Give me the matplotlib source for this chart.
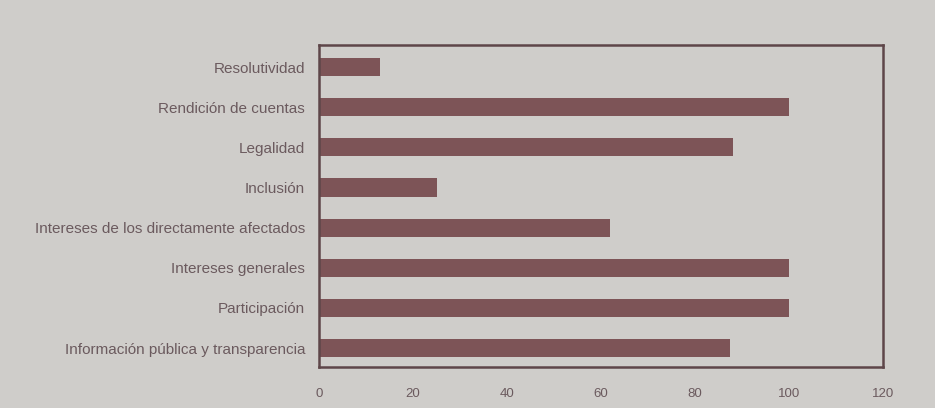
import numpy as np
import matplotlib.pyplot as plt

# Categories from top to bottom as in the picture
categories = ["Resolutividad", "Rendición de cuentas", "Legalidad", "Inclusión",
              "Intereses de los directamente afectados", "Intereses generales",
              "Participación", "Información pública y transparencia"]
values = [13, 100, 88, 25, 62, 100, 100, 87.5]
xticks = [0, 20, 40, 60, 80, 100, 120]

BG = "#cfcdca"
BAR = "#7d5457"
TXT = "#6b5a5e"
EDGE = "#5e4649"

plt.rcParams['font.family'] = ['Liberation Sans', 'DejaVu Sans']

fig = plt.figure(figsize=(9.35, 4.08), dpi=100, facecolor=BG)
ax = fig.add_axes([0.3412, 0.1005, 0.6032, 0.7892])
ax.set_facecolor(BG)

y = np.arange(len(categories))[::-1]
ax.barh(y, values, height=0.45, color=BAR)

ax.set_xlim(0, 120)
ax.set_ylim(-0.47, 7.55)
ax.set_yticks(y)
ax.set_yticklabels(categories)
ax.set_xticks(xticks)
ax.tick_params(axis='y', length=0, pad=10, labelsize=11, labelcolor=TXT)
ax.tick_params(axis='x', length=0, pad=15, labelsize=9.5, labelcolor=TXT)

for s in ax.spines.values():
    s.set_color(EDGE)
    s.set_linewidth(1.8)

fig.savefig("out.png", dpi=100, facecolor=BG)
